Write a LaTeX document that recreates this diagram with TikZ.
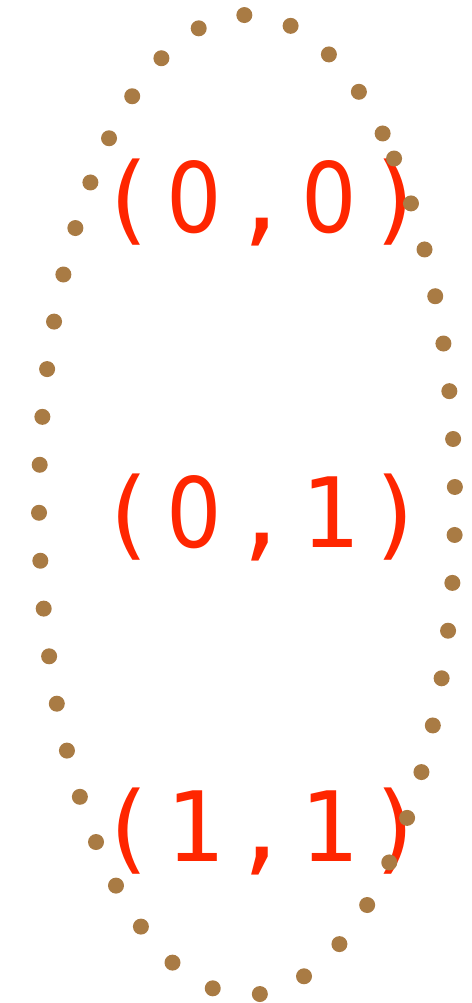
\documentclass[tikz,border=0pt]{standalone}
\usepackage{fontspec}
\newfontfamily\lblfont{DejaVu Sans Mono}
\newfontfamily\zerofont[FakeStretch=0.9]{DejaVu Sans}
\definecolor{lblred}{RGB}{255,38,0}
\definecolor{dotbrown}{RGB}{169,123,68}
\newcommand\ch[1]{\makebox[67.25pt]{#1}}
\newcommand\zr{\makebox[67.25pt]{\zerofont 0}}
\tikzset{
  lbl/.style={inner sep=0pt, anchor=base, text=lblred, font=\lblfont\fontsize{97}{97}\selectfont},
  dots/.style={draw=dotbrown, line width=16pt, line cap=round, dash pattern=on 0pt off 48pt}
}
\begin{document}
\begin{tikzpicture}[x=1pt,y=1pt]
\useasboundingbox (0,0) rectangle (471,1003);
\node[lbl] (l00) at (262,770) {\ch{(}\zr\ch{,}\zr\ch{)}};
\node[lbl] (l01) at (262,455) {\ch{(}\zr\ch{,}\ch{1}\ch{)}};
\node[lbl] (l11) at (262,141) {\ch{(}\ch{1}\ch{,}\ch{1}\ch{)}};
\coordinate (c) at (247,498);
\draw[dots] (c) ++(45:208pt and 490pt) arc[start angle=45, end angle=-315, x radius=208pt, y radius=490pt];
\end{tikzpicture}
\end{document}
